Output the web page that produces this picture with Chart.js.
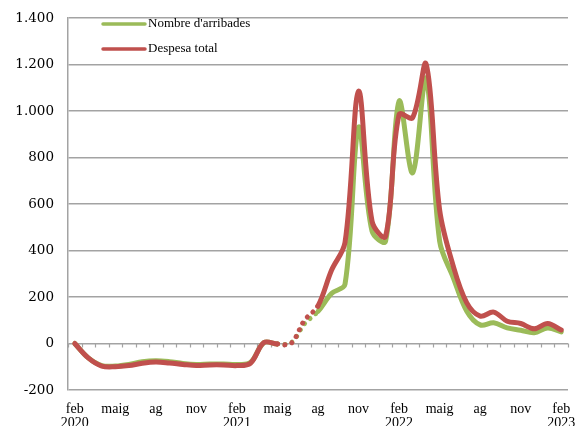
<!DOCTYPE html>
<html><head><meta charset="utf-8">
<script src="https://cdn.jsdelivr.net/npm/chart.js@4"></script>
<style>html,body{margin:0;padding:0;background:#fff}#wrap{width:576px;height:426px;position:relative}</style>
</head><body><div id="wrap"><canvas id="c"></canvas></div>
<script>
const categories = ['feb','març','abr','maig','juny','jul','ag','set','oct','nov','des','gen',
  'feb','març','abr','maig','juny','jul','ag','set','oct','nov','des','gen',
  'feb','març','abr','maig','juny','jul','ag','set','oct','nov','des','gen','feb'];
const yearLabels = ['2020','2021','2022','2023'];
const seriesNames = ["Nombre d'arribades", 'Despesa total'];
const arrivals = [0,-62,-95,-97,-90,-78,-74,-78,-86,-90,-88,-88,-90,-82,4,-2,2,85,138,215,255,930,483,440,1042,734,1140,440,285,140,80,89,67,57,46,67,50];
const spending = [0,-62,-97,-100,-95,-85,-80,-84,-90,-95,-92,-92,-95,-85,4,-2,0,100,162,315,435,1085,526,461,985,971,1202,575,335,176,118,135,96,86,63,86,58];
const yTicks = [-200,0,200,400,600,800,1000,1200,1400];
const dottedFrom = 15, dottedTo = 18;

const GRID = '#a3a3a3';
function fmt(v){const s=Math.abs(v).toString().replace(/\B(?=(\d{3})+(?!\d))/g,'.');return (v<0?'-':'')+s;}

const zeroTicks = {id:'zeroTicks', beforeDatasetsDraw(chart){
  const xs=chart.scales.x, ys=chart.scales.y, ctx=chart.ctx;
  const y0=ys.getPixelForValue(0), n=categories.length, w=xs.width/n;
  ctx.save(); ctx.strokeStyle=GRID; ctx.lineWidth=1.2; ctx.beginPath();
  for(let i=0;i<=n;i++){const x=Math.round(xs.left+i*w)+0.5; ctx.moveTo(x,y0); ctx.lineTo(x,y0+4);}
  ctx.stroke(); ctx.restore();
}};
const insideLegend = {id:'insideLegend', afterDraw(chart){
  const ctx=chart.ctx, a=chart.chartArea;
  chart.data.datasets.forEach((ds,i)=>{
    const y=a.top+6+i*25, x=a.left+35;
    ctx.save(); ctx.strokeStyle=ds.borderColor; ctx.lineWidth=3.5; ctx.lineCap='round';
    ctx.beginPath(); ctx.moveTo(x,y); ctx.lineTo(x+42,y); ctx.stroke();
    ctx.fillStyle='#000'; ctx.font='13px "Liberation Serif"'; ctx.textBaseline='middle';
    ctx.fillText(ds.label,x+45,y); ctx.restore();
  });
}};
const dotted = ctx => (ctx.p0DataIndex>=dottedFrom && ctx.p0DataIndex<dottedTo) ? [0.01,7.5] : undefined;

new Chart(document.getElementById('c'), {
  type:'line',
  data:{labels:categories, datasets:[
    {label:seriesNames[0], data:arrivals, borderColor:'#9BBB59', borderWidth:5, order:1,
     pointRadius:0, tension:0.35, borderCapStyle:'round', borderJoinStyle:'round', fill:false, segment:{borderDash:dotted}},
    {label:seriesNames[1], data:spending, borderColor:'#C0504D', borderWidth:5, order:0,
     pointRadius:0, tension:0.35, borderCapStyle:'round', borderJoinStyle:'round', fill:false, segment:{borderDash:dotted}}
  ]},
  options:{
    responsive:true, maintainAspectRatio:false, animation:false,
    layout:{padding:{top:18,right:8,left:0,bottom:0}},
    plugins:{legend:{display:false}, tooltip:{enabled:false}},
    scales:{
      x:{offset:true, grid:{display:false}, border:{display:false},
        afterFit(s){s.height=36; s.paddingLeft=0; s.paddingRight=0;},
        ticks:{autoSkip:false, maxRotation:0, padding:4, color:'#000',
          font:{family:'"Liberation Serif"', size:14, lineHeight:1.0},
          callback(v,i){ if(i%3!==0) return ''; return i%12===0 ? [categories[i], yearLabels[i/12]] : categories[i]; }}},
      y:{min:-200, max:1400, afterFit(s){s.width=68; s.paddingTop=0; s.paddingBottom=0;},
        afterBuildTicks(s){s.ticks=yTicks.map(v=>({value:v}));},
        grid:{color:GRID, lineWidth:1.5, drawTicks:false},
        border:{display:true, color:GRID, width:1.5},
        ticks:{padding:14, color:'#000', font:{family:'"DejaVu Serif"', size:13.5}, callback:v=>fmt(v)}}
    }
  },
  plugins:[zeroTicks, insideLegend]
});
</script></body></html>
